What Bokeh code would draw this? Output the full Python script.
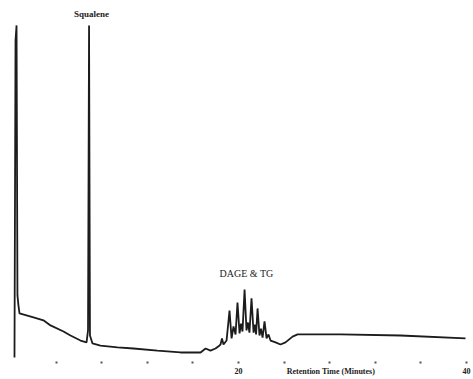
from bokeh.plotting import figure
from bokeh.models import Range1d, FixedTicker, Label
from bokeh.embed import file_html
from bokeh.resources import INLINE

# Chromatogram trace: retention time (min) vs detector response (% of full scale)
time_min = [
    0.35, 0.44, 0.53, 0.61, 0.70, 0.79, 2.02, 2.89, 3.51, 4.65, 5.26, 6.14, 6.67,
    6.80, 6.89, 6.97, 7.19, 7.89, 9.39, 10.79, 12.89, 14.91, 16.67, 17.11, 17.54,
    17.98, 18.25, 18.42, 18.55, 18.68, 18.95, 19.21, 19.39, 19.56, 19.74, 19.91,
    20.09, 20.22, 20.35, 20.53, 20.70, 20.83, 20.96, 21.14, 21.32, 21.45, 21.54,
    21.67, 21.84, 21.97, 22.11, 22.28, 22.46, 22.63, 22.81, 23.25, 23.68, 24.12,
    24.74, 25.18, 28.95, 34.21, 39.91,
]
response = [
    1.1, 88.9, 93.1, 18.3, 15.5, 13.3, 12.2, 11.4, 10.0, 8.3, 7.2, 5.8, 5.3,
    8.6, 93.1, 7.2, 5.0, 4.4, 3.9, 3.6, 3.0, 2.5, 2.5, 3.6, 3.0,
    3.6, 4.2, 4.7, 6.4, 4.7, 5.8, 14.1, 6.4, 9.7, 7.5, 16.3,
    7.8, 10.5, 8.3, 19.9, 8.6, 10.8, 8.0, 17.5, 8.0, 10.2, 7.5,
    14.7, 7.2, 9.1, 6.6, 11.1, 6.4, 7.5, 5.8, 5.3, 4.7, 5.3,
    6.9, 7.5, 7.5, 7.2, 6.4,
]

# Tick dots every 4 min; only 20 and 40 carry numbers, and the axis title
# sits in the same row, to the right of "20"
tick_positions = [4, 8, 12, 16, 20, 24, 28, 32, 36, 40]
title_position = 28.1
axis_labels = {20: "20", title_position: "Retention Time (Minutes)", 40: "40"}

p = figure(
    width=473, height=379,
    output_backend="svg", toolbar_location=None,
    x_range=Range1d(-0.877, 40.61), y_range=Range1d(0, 100),
    x_axis_location="below", y_axis_location=None,
    min_border_left=0, min_border_right=0, min_border_top=0, min_border_bottom=18,
)
p.outline_line_color = None
p.xgrid.visible = False
p.ygrid.visible = False
p.background_fill_color = "white"
p.border_fill_color = "white"

p.line(time_min, response, line_color="#1c1c1c", line_width=1.8)

ax = p.xaxis[0]
ax.ticker = FixedTicker(ticks=list(axis_labels.keys()), minor_ticks=tick_positions)
ax.major_label_overrides = axis_labels
ax.axis_line_color = None
ax.major_tick_line_color = None
ax.major_tick_out = 2
ax.major_tick_in = 0
ax.minor_tick_line_color = "#555555"
ax.minor_tick_line_width = 2
ax.minor_tick_out = 2
ax.minor_tick_in = 0
ax.major_label_standoff = 3
ax.major_label_text_font = "Liberation Serif"
ax.major_label_text_font_size = "8px"
ax.major_label_text_font_style = "bold"
ax.major_label_text_color = "#222222"

text_style = dict(text_font="Liberation Serif", text_color="#222222",
                  text_align="center", text_baseline="middle")

p.add_layout(Label(x=7.1, y=96.3, text="Squalene", text_font_size="9px",
                   text_font_style="bold", **text_style))
p.add_layout(Label(x=20.7, y=24.4, text="DAGE & TG", text_font_size="10px",
                   **text_style))

open("out.html", "w").write(file_html(p, INLINE))
